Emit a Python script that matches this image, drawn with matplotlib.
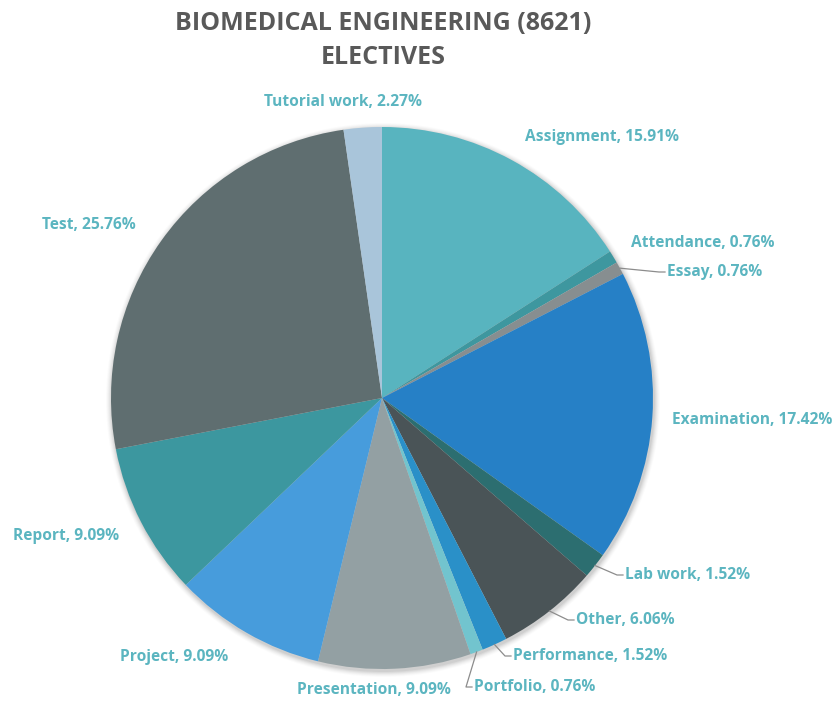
import numpy as np
import matplotlib.pyplot as plt

categorias = ["Assignment", "Attendance", "Essay", "Examination", "Lab work", "Other",
              "Performance", "Portfolio", "Presentation", "Project", "Report", "Test",
              "Tutorial work"]
porcentajes = [15.91, 0.76, 0.76, 17.42, 1.52, 6.06, 1.52, 0.76, 9.09, 9.09, 9.09, 25.76, 2.27]

colores = ["#58b4bf", "#3e979f", "#878e90", "#2680c6", "#2c6e70", "#4a5457",
           "#2a90c8", "#72c4ce", "#93a0a3", "#479cdc", "#3c979f", "#5f6e70", "#a9c5da"]

# posiciones de las etiquetas en pixeles (x izquierda, y centro) y si llevan linea guia
etiquetas_pos = [(525, 137), (631, 243), (667, 272), (672, 420), (625, 575), (576, 620),
                 (513, 656), (474, 687), (297, 690), (120, 657), (13, 536), (42, 225),
                 (264, 102)]
con_linea = [False, False, True, False, True, True, True, True, False, False, False, False, False]

W, H = 834, 702
CX, CY, R = 382, 398, 271
COLOR_TXT = "#5bb5c0"
FUENTE = "Open Sans"

fig = plt.figure(figsize=(W / 100, H / 100), dpi=100)
ax = fig.add_axes([0, 0, 1, 1])

# sombra suave
for k, a in zip(range(6, 0, -1), np.linspace(0.015, 0.05, 6)):
    ax.add_patch(plt.Circle((CX + 1, H - CY - 2), R + k, color="black", alpha=a, lw=0))

wedges, _ = ax.pie(porcentajes, colors=colores, startangle=90, counterclock=False,
                   center=(CX, H - CY), radius=R, wedgeprops=dict(linewidth=0))

for w, nombre, p, (tx, ty), linea in zip(wedges, categorias, porcentajes, etiquetas_pos, con_linea):
    y = H - ty
    if linea:
        ang = np.deg2rad((w.theta1 + w.theta2) / 2)
        x0 = CX + R * np.cos(ang)
        y0 = H - CY + R * np.sin(ang)
        xm = tx - 8
        ax.plot([x0, xm, tx - 2], [y0, y, y], color="#8c8c8c", lw=0.9)
    ax.text(tx, y, f"{nombre}, {p:.2f}%", ha="left", va="center", color=COLOR_TXT,
            fontsize=11.2, fontweight="bold", family=FUENTE)

ax.text(383, H - 23, "BIOMEDICAL ENGINEERING (8621)", ha="center", va="center",
        fontsize=18, fontweight="bold", color="#595959", family=FUENTE)
ax.text(383, H - 58, "ELECTIVES", ha="center", va="center",
        fontsize=18, fontweight="bold", color="#595959", family=FUENTE)

ax.set_xlim(0, W)
ax.set_ylim(0, H)
ax.set_aspect("auto")
ax.axis("off")

fig.savefig("out.png", dpi=100)
